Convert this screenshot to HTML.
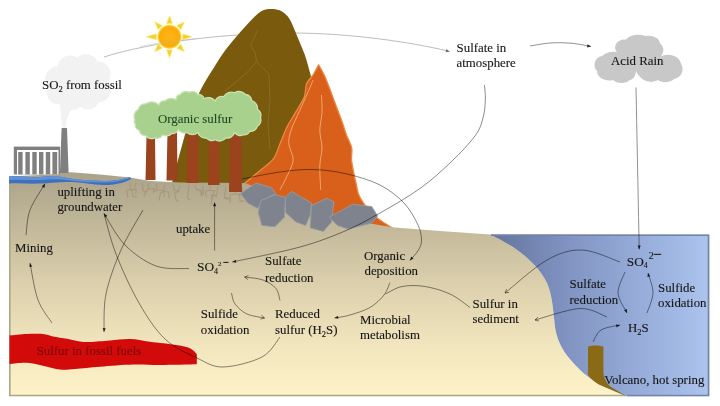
<!DOCTYPE html>
<html>
<head>
<meta charset="utf-8">
<title>Sulfur cycle</title>
<style>
html,body{margin:0;padding:0;background:#ffffff;}
body{width:720px;height:406px;overflow:hidden;font-family:"Liberation Serif",serif;}
svg{display:block;filter:blur(0.45px);}
text{font-family:"Liberation Serif",serif;font-size:12.85px;fill:#161616;stroke:#161616;stroke-width:0.12px;}
.ln{fill:none;stroke:#000;stroke-opacity:0.58;stroke-width:0.8;}
.lg{fill:none;stroke:#b4b4b4;stroke-width:0.9;}
.ln2{fill:none;stroke:#000;stroke-opacity:0.55;stroke-width:0.8;}
.oh{fill:none;stroke:#000;stroke-opacity:0.6;stroke-width:0.8;}
.ah{fill:#000;fill-opacity:0.8;stroke:none;}
</style>
</head>
<body>
<svg width="720" height="406" viewBox="0 0 720 406">
<defs>
  <linearGradient id="gGround" x1="0" y1="172" x2="0" y2="395" gradientUnits="userSpaceOnUse">
    <stop offset="0" stop-color="#aaa28a"/>
    <stop offset="0.25" stop-color="#c3b99a"/>
    <stop offset="0.55" stop-color="#e0d4b0"/>
    <stop offset="0.8" stop-color="#f3e7bf"/>
    <stop offset="1" stop-color="#fef2c8"/>
  </linearGradient>
  <linearGradient id="gWater" x1="493" y1="0" x2="710" y2="0" gradientUnits="userSpaceOnUse">
    <stop offset="0" stop-color="#65749c"/>
    <stop offset="0.35" stop-color="#8194c2"/>
    <stop offset="1" stop-color="#adc4ef"/>
  </linearGradient>
  <radialGradient id="gSun" cx="0.5" cy="0.5" r="0.5">
    <stop offset="0" stop-color="#fdb515"/>
    <stop offset="0.82" stop-color="#fbab0c"/>
    <stop offset="0.93" stop-color="#fdd23a"/>
    <stop offset="1" stop-color="#fff08a"/>
  </radialGradient>
  <filter id="blur1" x="-10%" y="-10%" width="120%" height="120%"><feGaussianBlur stdDeviation="0.6"/></filter>
  <filter id="blur2" x="-10%" y="-10%" width="120%" height="120%"><feGaussianBlur stdDeviation="1.2"/></filter>
</defs>

<!-- ===== long grey arc behind mountain ===== -->
<path class="lg" d="M104,57 C150,42 230,33 290,33 C350,33 410,42 448,51"/>

<path class="ah" d="M450,51.7 L445.6,52.2 L446.4,49.1 Z" style="fill:#555"/>
<!-- ===== brown mountain ===== -->
<path d="M172,183 C178,162 188,118 199.9,91.2 C204,83 210,74 214.6,66.5 C218,61 223,53 227,48 C231,43 235,38 239.3,33.3 C243,29 247,24.5 251.6,19.7 C255,16 259,12 262.7,10.4 C267,8.8 272,8.8 276.3,9.4 C281,10 284.5,12.5 287.4,16 C289.5,18.5 291,21.5 292.3,24.6 C294.5,29.5 296.5,34.5 298.5,39.4 C300.5,44.3 302.6,49.2 304.6,54.2 C306,58 307.2,62.3 308.3,66.5 C312,80 321,112 325,140 L328,200 L200,200 Z" fill="#7a5a0c"/>
<path d="M257.8,29.6 L250.4,45.6 L255.3,53 L256.5,61.6 L248,71.5 L236,82 L224.5,91.2" fill="none" stroke="#8b6e2c" stroke-width="0.9"/>
<path d="M256.5,61.6 L268.9,74 L269.5,86 L270,100 L268,125 L270,150" fill="none" stroke="#8b6e2c" stroke-width="0.9"/>

<!-- ===== orange mountain ===== -->
<path d="M244.4,183.5 C246.4,181.8 253.4,176.1 257.7,172.5 C262.0,168.9 269.9,163.5 273.2,159.2 C276.5,154.9 278.0,148.4 280.0,143.7 C282.0,139.0 284.2,132.7 286.5,128.0 C288.8,123.3 292.7,117.2 295.4,112.6 C298.1,107.9 302.6,101.3 304.3,97.0 C306.0,92.7 305.2,87.1 306.5,83.8 C307.8,80.5 311.2,77.8 313.0,75.0 C314.8,72.2 317.8,66.3 318.6,64.8 C319.4,66.3 322.7,71.8 324.2,75.0 C325.7,78.2 327.0,81.7 328.7,86.0 C330.4,90.3 333.3,98.5 335.3,103.8 C337.3,109.1 340.3,116.8 342.0,121.5 C343.7,126.2 344.9,130.8 346.4,134.8 C347.9,138.8 350.9,144.0 351.7,148.0 C352.5,152.0 351.0,156.1 351.7,161.4 C352.4,166.7 354.9,178.2 356.1,183.5 C357.3,188.8 357.2,192.1 359.7,196.8 C362.2,201.5 368.0,209.8 373.0,214.6 C378.0,219.4 390.0,226.4 393.0,228.5 L380,229.5 L240,229.5 Z" fill="#d8601a" stroke="#ec8a44" stroke-width="1.3" stroke-linejoin="round"/>
<path d="M313.0,80.0 C312.4,81.6 310.7,85.9 308.7,90.5 C306.7,95.1 302.5,104.4 299.8,110.4 C297.1,116.4 292.6,125.4 291.0,130.4 C289.4,135.4 288.5,139.4 288.8,143.7 C289.1,148.0 293.2,154.9 293.2,159.2 C293.2,163.5 290.8,167.9 288.8,172.5 C286.8,177.1 281.2,187.4 279.9,190.0" fill="none" stroke="#f3a86a" stroke-width="1"/>
<path d="M321.5,95.0 C321.6,97.6 322.3,107.3 322.0,112.6 C321.7,117.9 319.8,125.1 319.8,130.4 C319.8,135.7 322.0,142.7 322.0,148.0 C322.0,153.3 320.0,159.5 319.8,165.8 C319.6,172.1 320.6,186.4 320.7,190.0" fill="none" stroke="#f3a86a" stroke-width="1"/>

<!-- ===== ground ===== -->
<path d="M9,176.5 L40,175 L71,172.3 L100,174.5 L130,177.5 L150,181 L180,182.5 L245,183 L300,205 L350,220 L392,227.3 L440,231 L490,234.6 L500,239.5 L513,247 C526,256 539,267 547,283 C553,297 553,312 555.5,330 C558,342 562.5,350 568.5,358 C577,368 587,377 599,384.5 L626,396.3 L9,396.3 Z" fill="url(#gGround)"/>

<!-- ===== sea ===== -->
<path d="M490,234.6 L709.3,234.6 L709.3,396.3 L626,396.3 L599,384.5 C587,377 577,368 569,358 C562.5,350 558,342 555.5,330 C553,312 553,297 547,283 C539,267 526,256 513,247 L500,239.5 Z" fill="url(#gWater)"/>
<path d="M491,235.3 L708.5,235.3 L708.5,395.5 L627,395.5" fill="none" stroke="#7383a6" stroke-width="1.6"/>
<!-- bottom / left frame lines -->
<path d="M9.8,177 L9.8,395.5 L626,395.5" fill="none" stroke="#aaa688" stroke-width="1.6"/>


<!-- ===== roots ===== -->
<g fill="none" stroke="#a8977a" stroke-width="1.1" stroke-linejoin="miter">
<path d="M130.0,182.5 L130.5,189.7 L126.5,190.2 L128.0,197.4"/>
<path d="M130.5,189.7 l6.0,0.0 l-1.0,4.0"/>
<path d="M136.0,182.8 L134.5,189.4 L131.5,189.9 L133.0,196.5 L137.0,197.0"/>
<path d="M142.0,183.0 L143.5,191.4 L147.5,191.9"/>
<path d="M148.0,183.3 L148.5,188.9 L145.5,190.9 L144.0,196.5"/>
<path d="M148.5,188.9 l6.0,0.0 l-1.0,4.0"/>
<path d="M156.0,183.7 L157.5,189.7 L153.5,191.7"/>
<path d="M157.5,189.7 l6.0,1.0 l1.0,6.0"/>
<path d="M165.0,184.1 L163.5,191.3 L160.5,193.3 L159.0,200.5"/>
<path d="M163.5,191.3 l5.0,1.0 l1.0,6.0"/>
<path d="M173.0,184.4 L174.5,190.4 L178.5,190.9"/>
<path d="M180.0,184.8 L178.5,191.3 L174.5,193.3 L176.0,199.9 L179.0,201.4"/>
<path d="M189.0,185.2 L187.5,198.4 L190.5,199.9"/>
<path d="M195.0,185.4 L196.5,189.4 L200.5,190.9 L202.0,194.9"/>
<path d="M196.5,189.4 l6.0,1.0 l-1.0,6.0"/>
<path d="M203.0,185.8 L203.5,194.2 L199.5,194.7"/>
<path d="M210.0,186.1 L210.5,190.3 L214.5,190.8 L213.0,195.0 L217.0,196.5"/>
<path d="M210.5,190.3 l-5.0,1.0 l1.0,6.0"/>
<path d="M218.0,186.5 L216.5,195.3 L212.5,195.8 L211.0,204.6"/>
<path d="M216.5,195.3 l-5.0,0.0 l1.0,4.0"/>
<path d="M226.0,186.8 L224.5,197.6 L228.5,199.6"/>
<path d="M224.5,197.6 l6.0,1.0 l-1.0,4.0"/>
<path d="M235.0,187.2 L235.5,193.8 L239.5,194.3 L240.0,200.9 L244.0,201.4"/>
<path d="M235.5,193.8 l-5.0,1.0 l-1.0,4.0"/>
<path d="M243.0,187.6 L241.5,193.6 L238.5,195.6"/>
<path d="M241.5,193.6 l5.0,0.0 l-1.0,4.0"/>
</g>

<!-- ===== rocks ===== -->
<g fill="#7f838d" stroke="#969aa4" stroke-width="0.9" stroke-linejoin="round">
  <path d="M240.6,193.6 L256.0,183.0 L271.3,187.7 L276.0,193.6 L262.0,200.5 L258.0,208.5 L247.7,203.0 Z"/>
  <path d="M260.7,200.7 L274.9,194.8 L285.5,197.2 L284.3,217.2 L274.9,226.7 L261.9,225.5 L258.3,212.5 Z"/>
  <path d="M285.5,197.2 L291.4,191.3 L311.5,203.0 L310.3,214.9 L305.6,225.5 L296.1,222.0 L285.5,212.5 Z"/>
  <path d="M311.5,205.4 L326.8,198.3 L333.9,201.9 L331.5,222.0 L323.3,231.4 L310.3,227.9 Z"/>
  <path d="M329.2,217.2 L352.8,204.2 L371.7,206.6 L377.6,216.0 L371.7,223.1 L348.0,229.0 L337.4,225.5 Z"/>
</g>

<!-- ===== tree trunks ===== -->
<g fill="#9a431c">
  <path d="M146.5,136 L155,136 L155.5,180 L145.5,180 Z"/>
  <path d="M167.5,132 L177,132 L177.5,180.5 L166.5,180.5 Z"/>
  <path d="M187.5,130 L198,130 L198.5,183 L186.5,183 Z"/>
  <path d="M209,136 L219,136 L219.5,185 L208,185 Z"/>
  <path d="M230,134 L241,134 L242,192 L229,192 Z"/>
</g>
<!-- ===== canopy ===== -->
<g fill="#a9d18e" stroke="#c8e2b0" stroke-width="1.3" stroke-linejoin="round">
  <path d="M134.9,119.9 A8.2,8.2 0 0 1 138.2,109.4 A6.9,6.9 0 0 1 145.7,104.0 A9.8,9.8 0 0 1 158.8,105.0 A5.8,5.8 0 0 1 165.2,100.9 A8.2,8.2 0 0 1 176.1,99.9 A5.2,5.2 0 0 1 180.4,94.5 A6.8,6.8 0 0 1 189.2,92.3 A6.6,6.6 0 0 1 197.8,94.5 A5.8,5.8 0 0 1 204.2,98.8 A8.3,8.3 0 0 1 215.1,100.9 A7.2,7.2 0 0 1 223.7,96.7 A8.7,8.7 0 0 1 234.6,92.8 A8.2,8.2 0 0 1 245.4,94.5 A6.8,6.8 0 0 1 251.9,100.9 A7.6,7.6 0 0 1 257.4,109.4 A6.6,6.6 0 0 1 260.4,117.8 A6.7,6.7 0 0 1 257.4,126.2 A7.0,7.0 0 0 1 249.6,131.3 A5.5,5.5 0 0 1 243.2,134.7 A6.6,6.6 0 0 1 234.6,132.5 A7.7,7.7 0 0 1 225.9,137.9 A8.2,8.2 0 0 1 215.1,139.8 A6.7,6.7 0 0 1 206.4,137.9 A7.7,7.7 0 0 1 197.8,132.5 A8.1,8.1 0 0 1 186.9,132.5 A6.9,6.9 0 0 1 178.3,129.4 A5.9,5.9 0 0 1 171.6,133.5 A6.6,6.6 0 0 1 162.9,134.7 A6.8,6.8 0 0 1 154.4,137.9 A6.7,6.7 0 0 1 145.7,135.7 A6.3,6.3 0 0 1 139.3,130.3 A5.5,5.5 0 0 1 135.4,124.0 A3.2,3.2 0 0 1 134.9,119.9 Z"/>
</g>

<!-- ===== factory ===== -->
<g>
  <path d="M61.6,128 L67,128 L68.6,173 L60,173 Z" fill="#7f7f7f"/>
  <rect x="13.8" y="146.6" width="46.4" height="27.8" fill="#808080"/>
  <rect x="17" y="150" width="41.5" height="24.4" fill="#ffffff"/>
  <g fill="#808080">
    <rect x="18.2" y="152" width="4.4" height="22.4"/>
    <rect x="25.4" y="152" width="4.4" height="22.4"/>
    <rect x="32.3" y="152" width="4.4" height="22.4"/>
    <rect x="39" y="152" width="4.4" height="22.4"/>
    <rect x="45.8" y="152" width="4.4" height="22.4"/>
    <rect x="52.4" y="152" width="4.8" height="22.4"/>
  </g>
</g>

<!-- ===== groundwater ===== -->
<path d="M9,176.5 C20,175.5 30,178 40,177 C50,175.5 60,176 70,178.5 C80,180 92,180.5 104,181 C114,181 122,179.5 130,177 L131,179 C124,183 114,185 104,185 C92,184.5 82,182.5 72,182 C60,181.5 50,183 40,183.5 C30,184 20,183 9,183.5 Z" fill="#3f6fbf"/>
<path d="M9,176.5 C20,175.5 30,178 40,177 C50,175.5 60,176 70,178.5 C80,180 92,180.5 104,181 C114,181 122,179.5 130,177 L130,178 C122,181 114,182.5 104,182.5 C92,182.5 80,181.5 70,180.5 C60,179 50,179 40,180 C30,180.5 20,179 9,180 Z" fill="#5f92d6"/>

<!-- ===== fossil fuels ===== -->
<path d="M9.5,335.5 C12.4,335.2 21.4,334.2 27.0,334.0 C32.6,333.8 38.7,333.6 43.0,334.0 C47.3,334.4 49.0,335.7 53.0,336.5 C57.0,337.3 62.5,338.0 67.0,338.8 C71.5,339.6 76.2,341.0 80.0,341.5 C83.8,342.0 85.0,342.2 90.0,342.0 C95.0,341.8 103.3,341.0 110.0,340.5 C116.7,340.0 123.3,338.8 130.0,339.0 C136.7,339.2 142.2,340.7 150.0,341.7 C157.8,342.7 170.0,343.9 176.7,345.0 C183.4,346.1 186.7,346.8 190.0,348.3 C193.3,349.8 195.7,353.1 196.8,354.0 L196.8,364.3 C190.7,364.4 170.6,365.0 160.0,365.0 C149.4,365.0 143.0,364.2 133.0,364.5 C123.0,364.8 109.7,365.9 100.0,366.7 C90.3,367.4 81.7,368.5 75.0,369.0 C68.3,369.5 65.2,370.0 60.0,369.5 C54.8,369.0 49.5,367.1 44.0,366.0 C38.5,364.9 32.8,363.1 27.0,362.8 C21.2,362.5 12.4,363.8 9.5,364.0 Z" fill="#d20a0a"/>

<!-- ===== volcano ===== -->
<path d="M588,346.5 C592,345 599,345 603.4,346.5 L603.4,373 C604,379 607,383.5 611,387 L626,396 L599,384.5 C594.5,382 591,379 588,375 Z" fill="#8a6a14"/>

<!-- ===== clouds ===== -->
<g fill="#f2f2f2" filter="url(#blur1)">
  <circle cx="78" cy="83" r="21"/>
  <circle cx="59" cy="80" r="14"/><circle cx="70" cy="68" r="12.5"/><circle cx="86" cy="66" r="12"/>
  <circle cx="98" cy="74" r="12.5"/><circle cx="99" cy="90" r="12"/><circle cx="88" cy="98" r="11.5"/>
  <circle cx="72" cy="99" r="11"/><circle cx="58" cy="93" r="11"/>
  <path d="M58,100 C62,108 60,116 62.5,127.5 L66,127.5 C66,118 70,112 74,104 Z"/>
</g>
<g fill="#c8c8c8">
  <path d="M617,52 C612,46 618,38.5 626,39.5 C630,34.5 640,33.5 645,36 C652,34.5 660,38 660,43.5 C665,47 664,54 660,57 C668,52 680,56 681,64 C685,70 681,78 674,79 C670,83 662,83 658,80 C653,83 645,82 641,78 C638,75 636,72 636,70 C636,75 634,79 630,80 C626,84 617,84 613,80 C606,82 597,78 597,71 C592,66 595,57 602,56 C606,52 612,51 617,52 Z"/>
</g>

<!-- ===== sun ===== -->
<g transform="translate(169.5,36.8)">
  <g fill="#f4d12c" stroke="#fbe878" stroke-width="0.8" stroke-linejoin="round">
    <path d="M-2.9,-13.2 L0,-21 L2.9,-13.2 Z"/>
    <path d="M-2.9,-13.2 L0,-21 L2.9,-13.2 Z" transform="rotate(45)"/>
    <path d="M-2.9,-13.2 L0,-22.5 L2.9,-13.2 Z" transform="rotate(90)"/>
    <path d="M-2.9,-13.2 L0,-21 L2.9,-13.2 Z" transform="rotate(135)"/>
    <path d="M-2.9,-13.2 L0,-21 L2.9,-13.2 Z" transform="rotate(180)"/>
    <path d="M-2.9,-13.2 L0,-21 L2.9,-13.2 Z" transform="rotate(225)"/>
    <path d="M-2.9,-13.2 L0,-23.5 L2.9,-13.2 Z" transform="rotate(270)"/>
    <path d="M-2.9,-13.2 L0,-21 L2.9,-13.2 Z" transform="rotate(315)"/>
  </g>
  <circle cx="0" cy="0" r="12.2" fill="url(#gSun)"/>
</g>
<path d="M140,46.5 C155,43.5 175,40.5 196,38.5" fill="none" stroke="#b8b8c0" stroke-width="0.9" opacity="0.45"/>

<!-- ===== arrows ===== -->
<g id="arrows">
<path class="ln2" d="M530.0,46.0 C533.3,45.5 543.0,43.5 550.0,43.0 C557.0,42.5 565.2,42.7 572.0,43.3 C578.8,43.9 587.8,46.0 591.0,46.5"/>
<path class="ah" d="M591.0,46.5 L587.5,44.3 L587.0,47.4 Z"/>
<path class="ln2" d="M636.0,87.5 C636.5,114.5 638.7,222.4 639.2,249.4"/>
<path class="ah" d="M639.2,249.4 L640.7,245.6 L637.6,245.6 Z"/>
<path class="ln" d="M484.5,85.0 C484.6,87.5 485.6,94.5 485.3,100.0 C485.1,105.5 484.7,112.1 483.0,118.0 C481.3,123.9 480.6,128.2 475.3,135.5 C470.0,142.8 460.2,153.2 451.0,162.0 C441.8,170.8 431.8,180.0 420.0,188.5 C408.2,197.0 392.5,205.9 380.0,213.0 C367.5,220.1 358.3,225.3 345.0,231.0 C331.7,236.7 318.8,241.8 300.0,247.0 C281.2,252.2 243.6,259.5 232.3,262.0"/>
<path class="ah" d="M232.3,262.0 L236.3,262.7 L235.7,259.7 Z"/>
<path class="ln" d="M242.0,179.0 C248.3,177.8 268.2,173.6 280.0,172.0 C291.8,170.4 301.8,169.2 313.0,169.5 C324.2,169.8 335.8,171.4 347.0,174.0 C358.2,176.6 370.5,180.2 380.0,185.0 C389.5,189.8 397.7,196.3 404.0,203.0 C410.3,209.7 415.1,218.8 418.0,225.0 C420.9,231.2 421.4,235.8 421.5,240.0 C421.6,244.2 420.4,246.6 418.5,250.0 C416.6,253.4 411.4,258.8 410.0,260.5"/>
<path class="ah" d="M410.0,260.5 L413.6,258.5 L411.2,256.6 Z"/>
<path class="ln" d="M390.0,282.5 C389.0,284.6 387.3,290.8 384.0,295.0 C380.7,299.2 375.7,304.2 370.0,307.5 C364.3,310.8 355.9,313.2 350.0,315.0 C344.1,316.8 337.1,317.5 334.5,318.0"/>
<path class="ah" d="M334.5,318.0 L338.5,318.8 L337.9,315.8 Z"/>
<path class="ln" d="M470.0,307.5 C466.7,305.2 457.5,297.5 450.0,294.0 C442.5,290.5 433.0,287.8 425.0,286.5 C417.0,285.2 408.6,285.2 402.0,286.5 C395.4,287.8 388.2,292.8 385.5,294.0"/>
<path class="ln" d="M280.0,300.5 C279.3,298.5 278.8,291.9 276.0,288.5 C273.2,285.1 268.2,281.9 263.0,280.0 C257.8,278.1 247.7,277.5 244.6,277.0"/>
<path class="oh" d="M247.8,279.6 L244.6,277.0 L248.5,275.6"/>
<path class="ln" d="M231.5,293.0 C232.1,294.8 232.4,300.5 235.0,304.0 C237.6,307.5 242.1,311.7 247.0,314.0 C251.9,316.3 261.6,317.3 264.5,318.0"/>
<path class="oh" d="M261.4,315.2 L264.5,318.0 L260.5,319.1"/>
<path class="ln" d="M214.6,250.5 C214.6,242.5 214.6,210.5 214.6,202.5"/>
<path class="ah" d="M214.6,202.5 L213.0,206.3 L216.2,206.3 Z"/>
<path class="ln" d="M189.0,268.6 C183.5,268.2 166.7,269.9 156.0,266.0 C145.3,262.1 133.7,253.8 125.0,245.0 C116.3,236.2 107.5,218.8 104.0,213.5"/>
<path class="ah" d="M104.0,213.5 L104.8,217.5 L107.4,215.8 Z"/>
<path class="ln" d="M280.0,337.0 C277.0,340.3 271.5,352.0 262.0,357.0 C252.5,362.0 233.8,366.8 223.0,367.0 C212.2,367.2 206.7,362.7 197.0,358.0 C187.3,353.3 174.7,348.2 165.0,339.0 C155.3,329.8 147.2,317.2 139.0,303.0 C130.8,288.8 121.8,268.9 116.0,254.0 C110.2,239.1 106.0,220.2 104.0,213.5"/>
<path class="ln" d="M143.0,210.0 C139.3,216.7 127.2,236.0 121.0,250.0 C114.8,264.0 108.8,280.3 106.0,294.0 C103.2,307.7 104.3,325.7 104.0,332.0"/>
<path class="ah" d="M104.0,332.0 L105.7,328.3 L102.7,328.1 Z"/>
<path class="ln" d="M52.0,323.0 C49.7,319.2 41.7,310.0 38.0,300.0 C34.3,290.0 31.3,269.2 30.0,263.0"/>
<path class="ah" d="M30.0,263.0 L29.3,267.0 L32.3,266.4 Z"/>
<path class="ln" d="M26.0,235.0 C26.7,230.8 26.8,218.5 30.0,210.0 C33.2,201.5 42.5,188.2 45.0,183.8"/>
<path class="ah" d="M45.0,183.8 L41.8,186.3 L44.5,187.9 Z"/>
<path class="ln" d="M620.0,262.0 C613.7,260.0 594.2,250.3 582.0,250.0 C569.8,249.7 559.8,252.8 547.0,260.0 C534.2,267.2 512.0,287.5 505.0,293.0"/>
<path class="oh" d="M509.1,292.3 L505.0,293.0 L506.6,289.2"/>
<path class="ln" d="M607.0,317.0 C602.5,315.6 592.0,308.0 580.0,308.5 C568.0,309.0 542.5,318.1 535.0,320.0"/>
<path class="oh" d="M539.0,321.0 L535.0,320.0 L538.0,317.2"/>
<path class="ln" d="M593.0,342.0 C594.3,340.0 596.5,332.8 601.0,330.0 C605.5,327.2 616.8,325.8 620.0,325.0"/>
<path class="ah" d="M620.0,325.0 L615.9,324.5 L616.7,327.5 Z"/>
<path class="ln" d="M625.0,272.0 C623.8,275.5 617.7,286.2 618.0,293.0 C618.3,299.8 625.5,309.7 627.0,313.0"/>
<path class="ah" d="M627.0,313.0 L626.9,308.9 L624.0,310.2 Z"/>
<path class="ln" d="M647.0,313.0 C648.0,309.7 652.8,299.7 653.0,293.0 C653.2,286.3 648.8,276.3 648.0,273.0"/>
<path class="ah" d="M648.0,273.0 L647.4,277.1 L650.4,276.3 Z"/>
</g>
<!-- ===== labels ===== -->
<g id="labels">
<text x="42" y="89">SO<tspan dy="2.5" font-size="8.5">2</tspan><tspan dy="-2.5"> from fossil</tspan></text>
<text x="158" y="123" style="fill:#1f4a22;stroke:#1f4a22">Organic sulfur</text>
<text x="456.6" y="51.6">Sulfate in</text>
<text x="456.6" y="66.8">atmosphere</text>
<text x="611" y="65">Acid Rain</text>
<text x="57.4" y="195.8">uplifting in</text>
<text x="57.4" y="211.2">groundwater</text>
<text x="15" y="252">Mining</text>
<text x="176" y="233">uptake</text>
<text x="197" y="271.3" style="font-size:13.3px">SO<tspan dy="2.3" font-size="8">4</tspan><tspan dy="-8" dx="0" font-size="7">2</tspan></text>
<path d="M223.3,262.4 L228.6,262.4" stroke="#2a2a2a" stroke-width="1.1" fill="none"/>
<text x="265" y="265">Sulfate</text>
<text x="265" y="282">reduction</text>
<text x="200.8" y="318.3">Sulfide</text>
<text x="200.8" y="334.4">oxidation</text>
<text x="275" y="318">Reduced</text>
<text x="275" y="334.3">sulfur (H<tspan dy="2.5" font-size="8.5">2</tspan><tspan dy="-2.5">S)</tspan></text>
<text x="364" y="259.5">Organic</text>
<text x="364.5" y="274.8">deposition</text>
<text x="360" y="324">Microbial</text>
<text x="360" y="339">metabolism</text>
<text x="472.5" y="307.5">Sulfur in</text>
<text x="472.5" y="323.4">sediment</text>
<text x="626.8" y="266" style="font-size:13.3px">SO<tspan dy="2.3" font-size="8">4</tspan></text>
<text x="648.8" y="259.2" style="font-size:9.8px">2</text>
<path d="M653.6,254.4 L661.2,254.4" stroke="#2a2a2a" stroke-width="1.2" fill="none"/>
<text x="569.6" y="287.8">Sulfate</text>
<text x="569.6" y="303.5">reduction</text>
<text x="658" y="292">Sulfide</text>
<text x="658" y="306.5">oxidation</text>
<text x="628" y="332">H<tspan dy="2.5" font-size="8.5">2</tspan><tspan dy="-2.5">S</tspan></text>
<text x="604.3" y="383.6">Volcano, hot spring</text>
<text x="36.7" y="355" style="fill:#7c0808;stroke:#7c0808">Sulfur in fossil fuels</text>
</g>
</svg>
</body>
</html>
